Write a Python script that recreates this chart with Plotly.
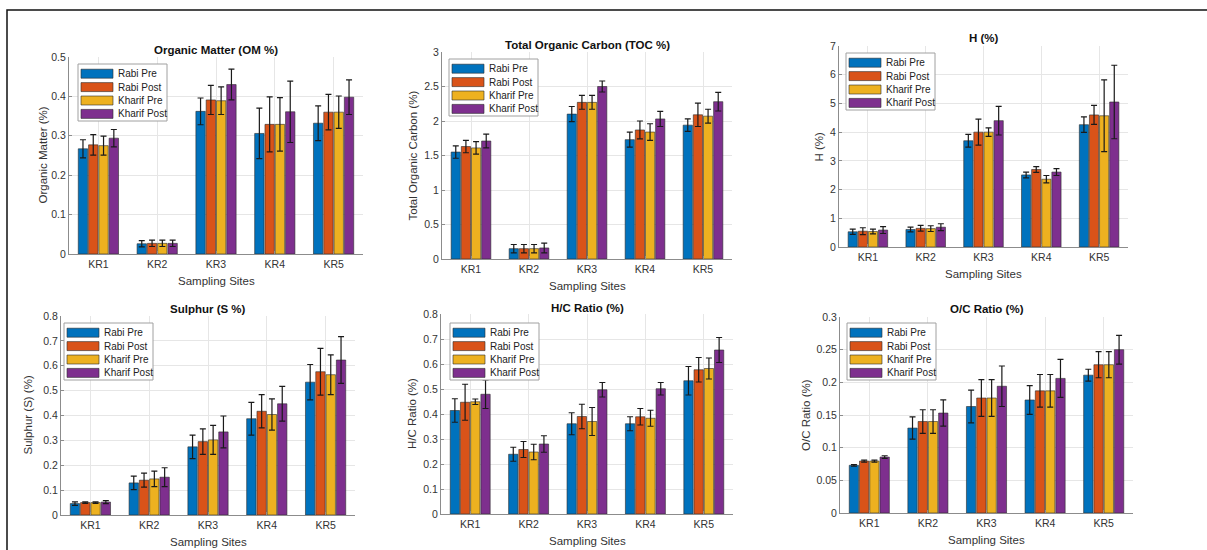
import plotly.graph_objects as go

# ---------------- data ----------------
sites = ["KR1", "KR2", "KR3", "KR4", "KR5"]
series_names = ["Rabi Pre", "Rabi Post", "Kharif Pre", "Kharif Post"]
series_colors = ["#0072BD", "#D95319", "#EDB120", "#7E2F8E"]

om_rabi_pre = [0.267, 0.026, 0.362, 0.306, 0.332]
om_rabi_post = [0.277, 0.027, 0.391, 0.329, 0.360]
om_kharif_pre = [0.275, 0.027, 0.389, 0.329, 0.360]
om_kharif_post = [0.294, 0.027, 0.430, 0.361, 0.398]
om_err_rabi_pre = [0.023, 0.008, 0.034, 0.064, 0.044]
om_err_rabi_post = [0.026, 0.008, 0.037, 0.070, 0.045]
om_err_kharif_pre = [0.024, 0.008, 0.035, 0.068, 0.041]
om_err_kharif_post = [0.022, 0.008, 0.039, 0.078, 0.044]

toc_rabi_pre = [1.55, 0.15, 2.10, 1.73, 1.94]
toc_rabi_post = [1.63, 0.15, 2.27, 1.87, 2.09]
toc_kharif_pre = [1.61, 0.15, 2.27, 1.84, 2.07]
toc_kharif_post = [1.71, 0.16, 2.50, 2.03, 2.28]
toc_err_rabi_pre = [0.09, 0.06, 0.11, 0.11, 0.09]
toc_err_rabi_post = [0.09, 0.06, 0.10, 0.13, 0.17]
toc_err_kharif_pre = [0.09, 0.06, 0.10, 0.12, 0.10]
toc_err_kharif_post = [0.10, 0.07, 0.08, 0.11, 0.135]

h_rabi_pre = [0.53, 0.61, 3.70, 2.51, 4.26]
h_rabi_post = [0.55, 0.65, 4.00, 2.70, 4.60]
h_kharif_pre = [0.54, 0.64, 4.00, 2.36, 4.57]
h_kharif_post = [0.59, 0.69, 4.40, 2.61, 5.05]
h_err_rabi_pre = [0.09, 0.08, 0.22, 0.10, 0.27]
h_err_rabi_post = [0.12, 0.10, 0.45, 0.10, 0.33]
h_err_kharif_pre = [0.08, 0.10, 0.15, 0.13, 1.25]
h_err_kharif_post = [0.12, 0.12, 0.50, 0.12, 1.28]

s_rabi_pre = [0.046, 0.129, 0.274, 0.387, 0.534]
s_rabi_post = [0.050, 0.140, 0.295, 0.417, 0.576]
s_kharif_pre = [0.050, 0.145, 0.302, 0.404, 0.564]
s_kharif_post = [0.052, 0.152, 0.334, 0.447, 0.623]
s_err_rabi_pre = [0.007, 0.027, 0.047, 0.066, 0.071]
s_err_rabi_post = [0.003, 0.028, 0.051, 0.067, 0.094]
s_err_kharif_pre = [0.003, 0.031, 0.058, 0.063, 0.080]
s_err_kharif_post = [0.006, 0.038, 0.064, 0.070, 0.094]

hc_rabi_pre = [0.414, 0.239, 0.361, 0.361, 0.533]
hc_rabi_post = [0.447, 0.258, 0.390, 0.389, 0.577]
hc_kharif_pre = [0.449, 0.248, 0.370, 0.383, 0.582]
hc_kharif_post = [0.479, 0.280, 0.497, 0.501, 0.656]
hc_err_rabi_pre = [0.047, 0.028, 0.044, 0.028, 0.057]
hc_err_rabi_post = [0.072, 0.032, 0.049, 0.033, 0.049]
hc_err_kharif_pre = [0.011, 0.031, 0.056, 0.032, 0.042]
hc_err_kharif_post = [0.057, 0.033, 0.029, 0.025, 0.050]

oc_rabi_pre = [0.073, 0.130, 0.163, 0.173, 0.211]
oc_rabi_post = [0.0795, 0.140, 0.176, 0.187, 0.227]
oc_kharif_pre = [0.0795, 0.140, 0.176, 0.187, 0.227]
oc_kharif_post = [0.0856, 0.153, 0.194, 0.206, 0.250]
oc_err_rabi_pre = [0.0012, 0.017, 0.025, 0.022, 0.009]
oc_err_rabi_post = [0.0015, 0.018, 0.028, 0.025, 0.020]
oc_err_kharif_pre = [0.0015, 0.018, 0.028, 0.025, 0.020]
oc_err_kharif_post = [0.002, 0.020, 0.031, 0.029, 0.022]

panel_titles = ["Organic Matter (OM %)", "Total Organic Carbon (TOC %)", "H (%)",
                "Sulphur (S %)", "H/C Ratio (%)", "O/C Ratio (%)"]
y_titles = ["Organic Matter (%)", "Total Organic Carbon (%)", "H (%)",
            "Sulphur (S) (%)", "H/C Ratio (%)", "O/C Ratio (%)"]
x_title = "Sampling Sites"
y_max = [0.5, 3, 7, 0.8, 0.8, 0.3]
y_dtick = [0.1, 0.5, 1, 0.1, 0.1, 0.05]

panel_values = [
    [om_rabi_pre, om_rabi_post, om_kharif_pre, om_kharif_post],
    [toc_rabi_pre, toc_rabi_post, toc_kharif_pre, toc_kharif_post],
    [h_rabi_pre, h_rabi_post, h_kharif_pre, h_kharif_post],
    [s_rabi_pre, s_rabi_post, s_kharif_pre, s_kharif_post],
    [hc_rabi_pre, hc_rabi_post, hc_kharif_pre, hc_kharif_post],
    [oc_rabi_pre, oc_rabi_post, oc_kharif_pre, oc_kharif_post],
]
panel_errors = [
    [om_err_rabi_pre, om_err_rabi_post, om_err_kharif_pre, om_err_kharif_post],
    [toc_err_rabi_pre, toc_err_rabi_post, toc_err_kharif_pre, toc_err_kharif_post],
    [h_err_rabi_pre, h_err_rabi_post, h_err_kharif_pre, h_err_kharif_post],
    [s_err_rabi_pre, s_err_rabi_post, s_err_kharif_pre, s_err_kharif_post],
    [hc_err_rabi_pre, hc_err_rabi_post, hc_err_kharif_pre, hc_err_kharif_post],
    [oc_err_rabi_pre, oc_err_rabi_post, oc_err_kharif_pre, oc_err_kharif_post],
]

# ---------------- layout geometry (pixels) ----------------
W, H = 1207, 550
plot_boxes = [(69, 57, 363, 254), (442, 52, 732, 259), (839, 46, 1128, 247),
              (61, 316, 355, 515), (441, 314, 733, 514), (840, 317, 1133, 513)]
title_y = [50, 45, 38, 309, 308, 309]
ytitle_x = [42, 412, 818, 27, 412, 806]
legend_pos = [(78, 64), (449, 59), (846, 53), (64, 323), (450, 323), (847, 323)]

FONT = "Liberation Sans, Arial, sans-serif"
TXT = "#333333"
AX = "#8c8c8c"


def px(x):
    return x / W


def py(y):
    return 1 - y / H


fig = go.Figure()
shapes = []
annotations = []
layout = {}

site_pos = list(range(1, len(sites) + 1))

for p in range(6):
    ax = "" if p == 0 else str(p + 1)
    xref, yref = "x" + ax, "y" + ax
    for s in range(4):
        fig.add_trace(go.Bar(
            x=site_pos, y=panel_values[p][s], name=series_names[s],
            marker=dict(color=series_colors[s], line=dict(color="#2b2b2b", width=0.6)),
            error_y=dict(type="data", array=panel_errors[p][s], visible=True,
                         color="#1a1a1a", thickness=1.2, width=3),
            xaxis=xref, yaxis=yref, showlegend=False, hoverinfo="skip",
        ))
    x0, y0, x1, y1 = plot_boxes[p]
    layout["xaxis" + ax] = dict(
        domain=[px(x0), px(x1)], anchor=yref, range=[0.5, 5.5],
        tickvals=site_pos, ticktext=sites, showgrid=True, gridcolor="#e6e6e6",
        showline=True, linecolor=AX, linewidth=1, ticks="inside", ticklen=3,
        tickcolor=AX, zeroline=False, automargin=False, fixedrange=True,
        tickfont=dict(family=FONT, size=10.5, color=TXT),
    )
    layout["yaxis" + ax] = dict(
        domain=[py(y1), py(y0)], anchor=xref, range=[0, y_max[p]], dtick=y_dtick[p],
        showgrid=True, gridcolor="#e6e6e6", showline=True, linecolor=AX, linewidth=1,
        ticks="inside", ticklen=3, tickcolor=AX, zeroline=False, automargin=False,
        fixedrange=True, tickfont=dict(family=FONT, size=10.5, color=TXT),
    )
    cx = (x0 + x1) / 2
    cy = (y0 + y1) / 2
    annotations.append(dict(x=px(cx), y=py(title_y[p]), xref="paper", yref="paper",
                            text="<b>" + panel_titles[p] + "</b>", showarrow=False,
                            xanchor="center", yanchor="middle",
                            font=dict(family=FONT, size=11.5, color="#111111")))
    annotations.append(dict(x=px(cx), y=py(y1 + 27), xref="paper", yref="paper",
                            text=x_title, showarrow=False, xanchor="center", yanchor="middle",
                            font=dict(family=FONT, size=11.5, color=TXT)))
    annotations.append(dict(x=px(ytitle_x[p]), y=py(cy), xref="paper", yref="paper",
                            text=y_titles[p], showarrow=False, textangle=-90,
                            xanchor="center", yanchor="middle",
                            font=dict(family=FONT, size=11.5, color=TXT)))
    # legend box
    lx, ly = legend_pos[p]
    shapes.append(dict(type="rect", xref="paper", yref="paper",
                       x0=px(lx), x1=px(lx + 89), y0=py(ly), y1=py(ly + 57),
                       line=dict(color="#a0a0a0", width=1), fillcolor="white", layer="above"))
    for s in range(4):
        iy = ly + 9.7 + 13.4 * s
        shapes.append(dict(type="rect", xref="paper", yref="paper",
                           x0=px(lx + 3), x1=px(lx + 35), y0=py(iy - 4.5), y1=py(iy + 4.5),
                           line=dict(color="#2b2b2b", width=0.6),
                           fillcolor=series_colors[s], layer="above"))
        annotations.append(dict(x=px(lx + 38), y=py(iy), xref="paper", yref="paper",
                                text=series_names[s], showarrow=False,
                                xanchor="left", yanchor="middle",
                                font=dict(family=FONT, size=10, color="#222222")))

# outer frame
shapes.append(dict(type="rect", xref="paper", yref="paper",
                   x0=px(7), x1=px(1230), y0=py(10), y1=py(580),
                   line=dict(color="#111111", width=1.5), fillcolor="rgba(0,0,0,0)"))

fig.update_layout(
    **layout,
    width=W, height=H, margin=dict(l=0, r=0, t=0, b=0),
    paper_bgcolor="white", plot_bgcolor="white",
    barmode="group", bargap=0.30, bargroupgap=0.09,
    showlegend=False, shapes=shapes, annotations=annotations,
    font=dict(family=FONT), hovermode=False,
)

fig.write_html(
    "out.html",
    config={"displayModeBar": False, "staticPlot": True},
    post_script="document.body.style.margin='0';document.body.style.overflow='hidden';",
)
